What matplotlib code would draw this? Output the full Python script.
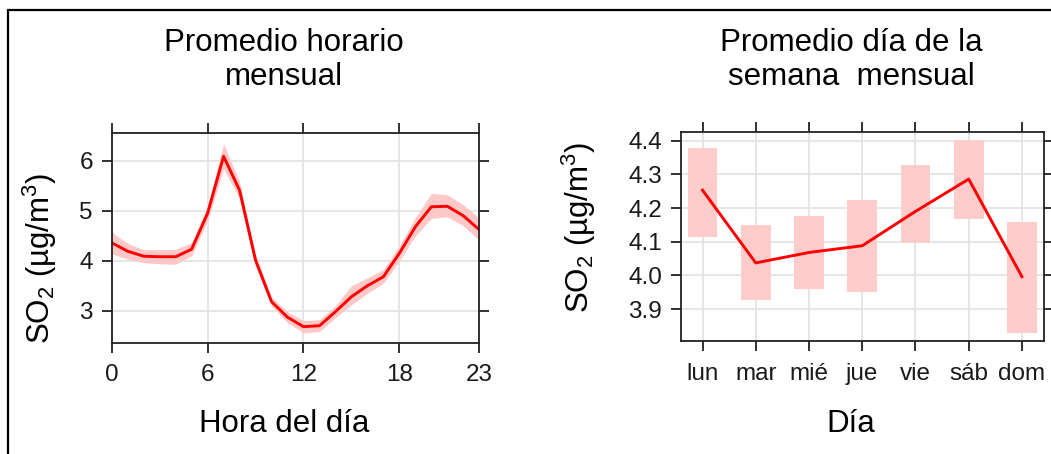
import matplotlib
matplotlib.use("Agg")
import matplotlib.pyplot as plt
from matplotlib.patches import Rectangle

plt.rcParams['font.family'] = ['Liberation Sans', 'DejaVu Sans']
plt.rcParams['mathtext.fontset'] = 'custom'
plt.rcParams['mathtext.rm'] = 'Liberation Sans'
plt.rcParams['mathtext.it'] = 'Liberation Sans:italic'

# promedio horario
horas = list(range(24))
so2_hora = [4.36, 4.19, 4.09, 4.08, 4.08, 4.23, 4.95, 6.09, 5.41, 4.01, 3.18, 2.87,
            2.68, 2.70, 2.98, 3.28, 3.50, 3.68, 4.15, 4.68, 5.08, 5.09, 4.90, 4.62]
so2_hora_inf = [4.14, 4.03, 3.96, 3.94, 3.93, 4.10, 4.80, 5.84, 5.24, 3.90, 3.09, 2.76,
                2.56, 2.58, 2.86, 3.12, 3.35, 3.55, 4.00, 4.50, 4.85, 4.88, 4.70, 4.40]
so2_hora_sup = [4.57, 4.35, 4.22, 4.22, 4.23, 4.36, 5.10, 6.34, 5.58, 4.12, 3.27, 2.98,
                2.80, 2.82, 3.10, 3.50, 3.66, 3.82, 4.30, 4.86, 5.35, 5.32, 5.12, 4.85]
ticks_hora = [0, 6, 12, 18, 23]

# promedio dia de la semana
dias = ['lun', 'mar', 'mié', 'jue', 'vie', 'sáb', 'dom']
so2_dia = [4.253, 4.037, 4.068, 4.088, 4.190, 4.286, 3.996]
so2_dia_inf = [4.113, 3.927, 3.960, 3.951, 4.095, 4.166, 3.828]
so2_dia_sup = [4.378, 4.150, 4.176, 4.223, 4.328, 4.402, 4.160]
ticks_dia = [3.9, 4.0, 4.1, 4.2, 4.3, 4.4]

W, H = 1051, 454
fig = plt.figure(figsize=(W / 100, H / 100), dpi=100)
fig.patch.set_facecolor('white')

ax1 = fig.add_axes([111.7 / W, 1 - 342.7 / H, 367.6 / W, 209.4 / H])
ax2 = fig.add_axes([680.7 / W, 1 - 341.0 / H, 363.6 / W, 208.7 / H])

ylab = r'SO$_2$ (µg/m$^3$)'
grid_c = '#e2e2e2'
spine_c = '#222222'
fs_lab = 22.5

def estilo(ax):
    for s in ax.spines.values():
        s.set_linewidth(1.3)
        s.set_color(spine_c)
    ax.tick_params(direction='out', length=7.5, width=1.3, color=spine_c,
                   labelsize=17.5, labelcolor='#1a1a1a', top=True, right=True,
                   labeltop=False, labelright=False)
    ax.tick_params(axis='x', pad=8)
    ax.tick_params(axis='y', pad=6)
    ax.grid(True, color=grid_c, linewidth=1.2)
    ax.set_axisbelow(True)

# panel horario
ax1.fill_between(horas, so2_hora_inf, so2_hora_sup, color='#ffc8c8', linewidth=0)
ax1.plot(horas, so2_hora, color='red', linewidth=2.1)
ax1.set_xlim(0, 23)
ax1.set_ylim(2.36, 6.55)
ax1.set_xticks(ticks_hora)
ax1.set_yticks([3, 4, 5, 6])
estilo(ax1)
ax1.set_xlabel('Hora del día', fontsize=fs_lab)
ax1.xaxis.set_label_coords((284 - 111.7) / 367.6, (342.7 - 409) / 209.4)
ax1.set_ylabel(ylab, fontsize=fs_lab)
ax1.yaxis.set_label_coords((59 - 111.7) / 367.6, (342.7 - 258) / 209.4)

# panel dia de la semana
x = list(range(len(dias)))
for i in x:
    ax2.bar(i, so2_dia_sup[i] - so2_dia_inf[i], bottom=so2_dia_inf[i], width=0.56,
            color='#ffcccc', linewidth=0)
ax2.plot(x, so2_dia, color='red', linewidth=2.1)
ax2.set_xlim(-0.41, 6.42)
ax2.set_ylim(3.805, 4.425)
ax2.set_xticks(x)
ax2.set_xticklabels(dias)
ax2.set_yticks(ticks_dia)
ax2.set_yticklabels([f'{t:.1f}' for t in ticks_dia])
estilo(ax2)
ax2.set_xlabel('Día', fontsize=fs_lab)
ax2.xaxis.set_label_coords((851 - 680.7) / 363.6, (341 - 409) / 208.7)
ax2.set_ylabel(ylab, fontsize=fs_lab)
ax2.yaxis.set_label_coords((598 - 680.7) / 363.6, (341 - 227) / 208.7)

# titulos
fig.text(284 / W, 1 - 60 / H, 'Promedio horario\nmensual', ha='center', va='center',
         fontsize=fs_lab, linespacing=1.2)
fig.text(851 / W, 1 - 60 / H, 'Promedio día de la\nsemana  mensual', ha='center',
         va='center', fontsize=fs_lab, linespacing=1.2)

# marco
fig.add_artist(Rectangle((8 / W, -0.1), 1.2, 1.1 - 10 / H, transform=fig.transFigure,
                         fill=False, edgecolor='black', linewidth=1.6, clip_on=False))

fig.savefig('out.png', dpi=100)
